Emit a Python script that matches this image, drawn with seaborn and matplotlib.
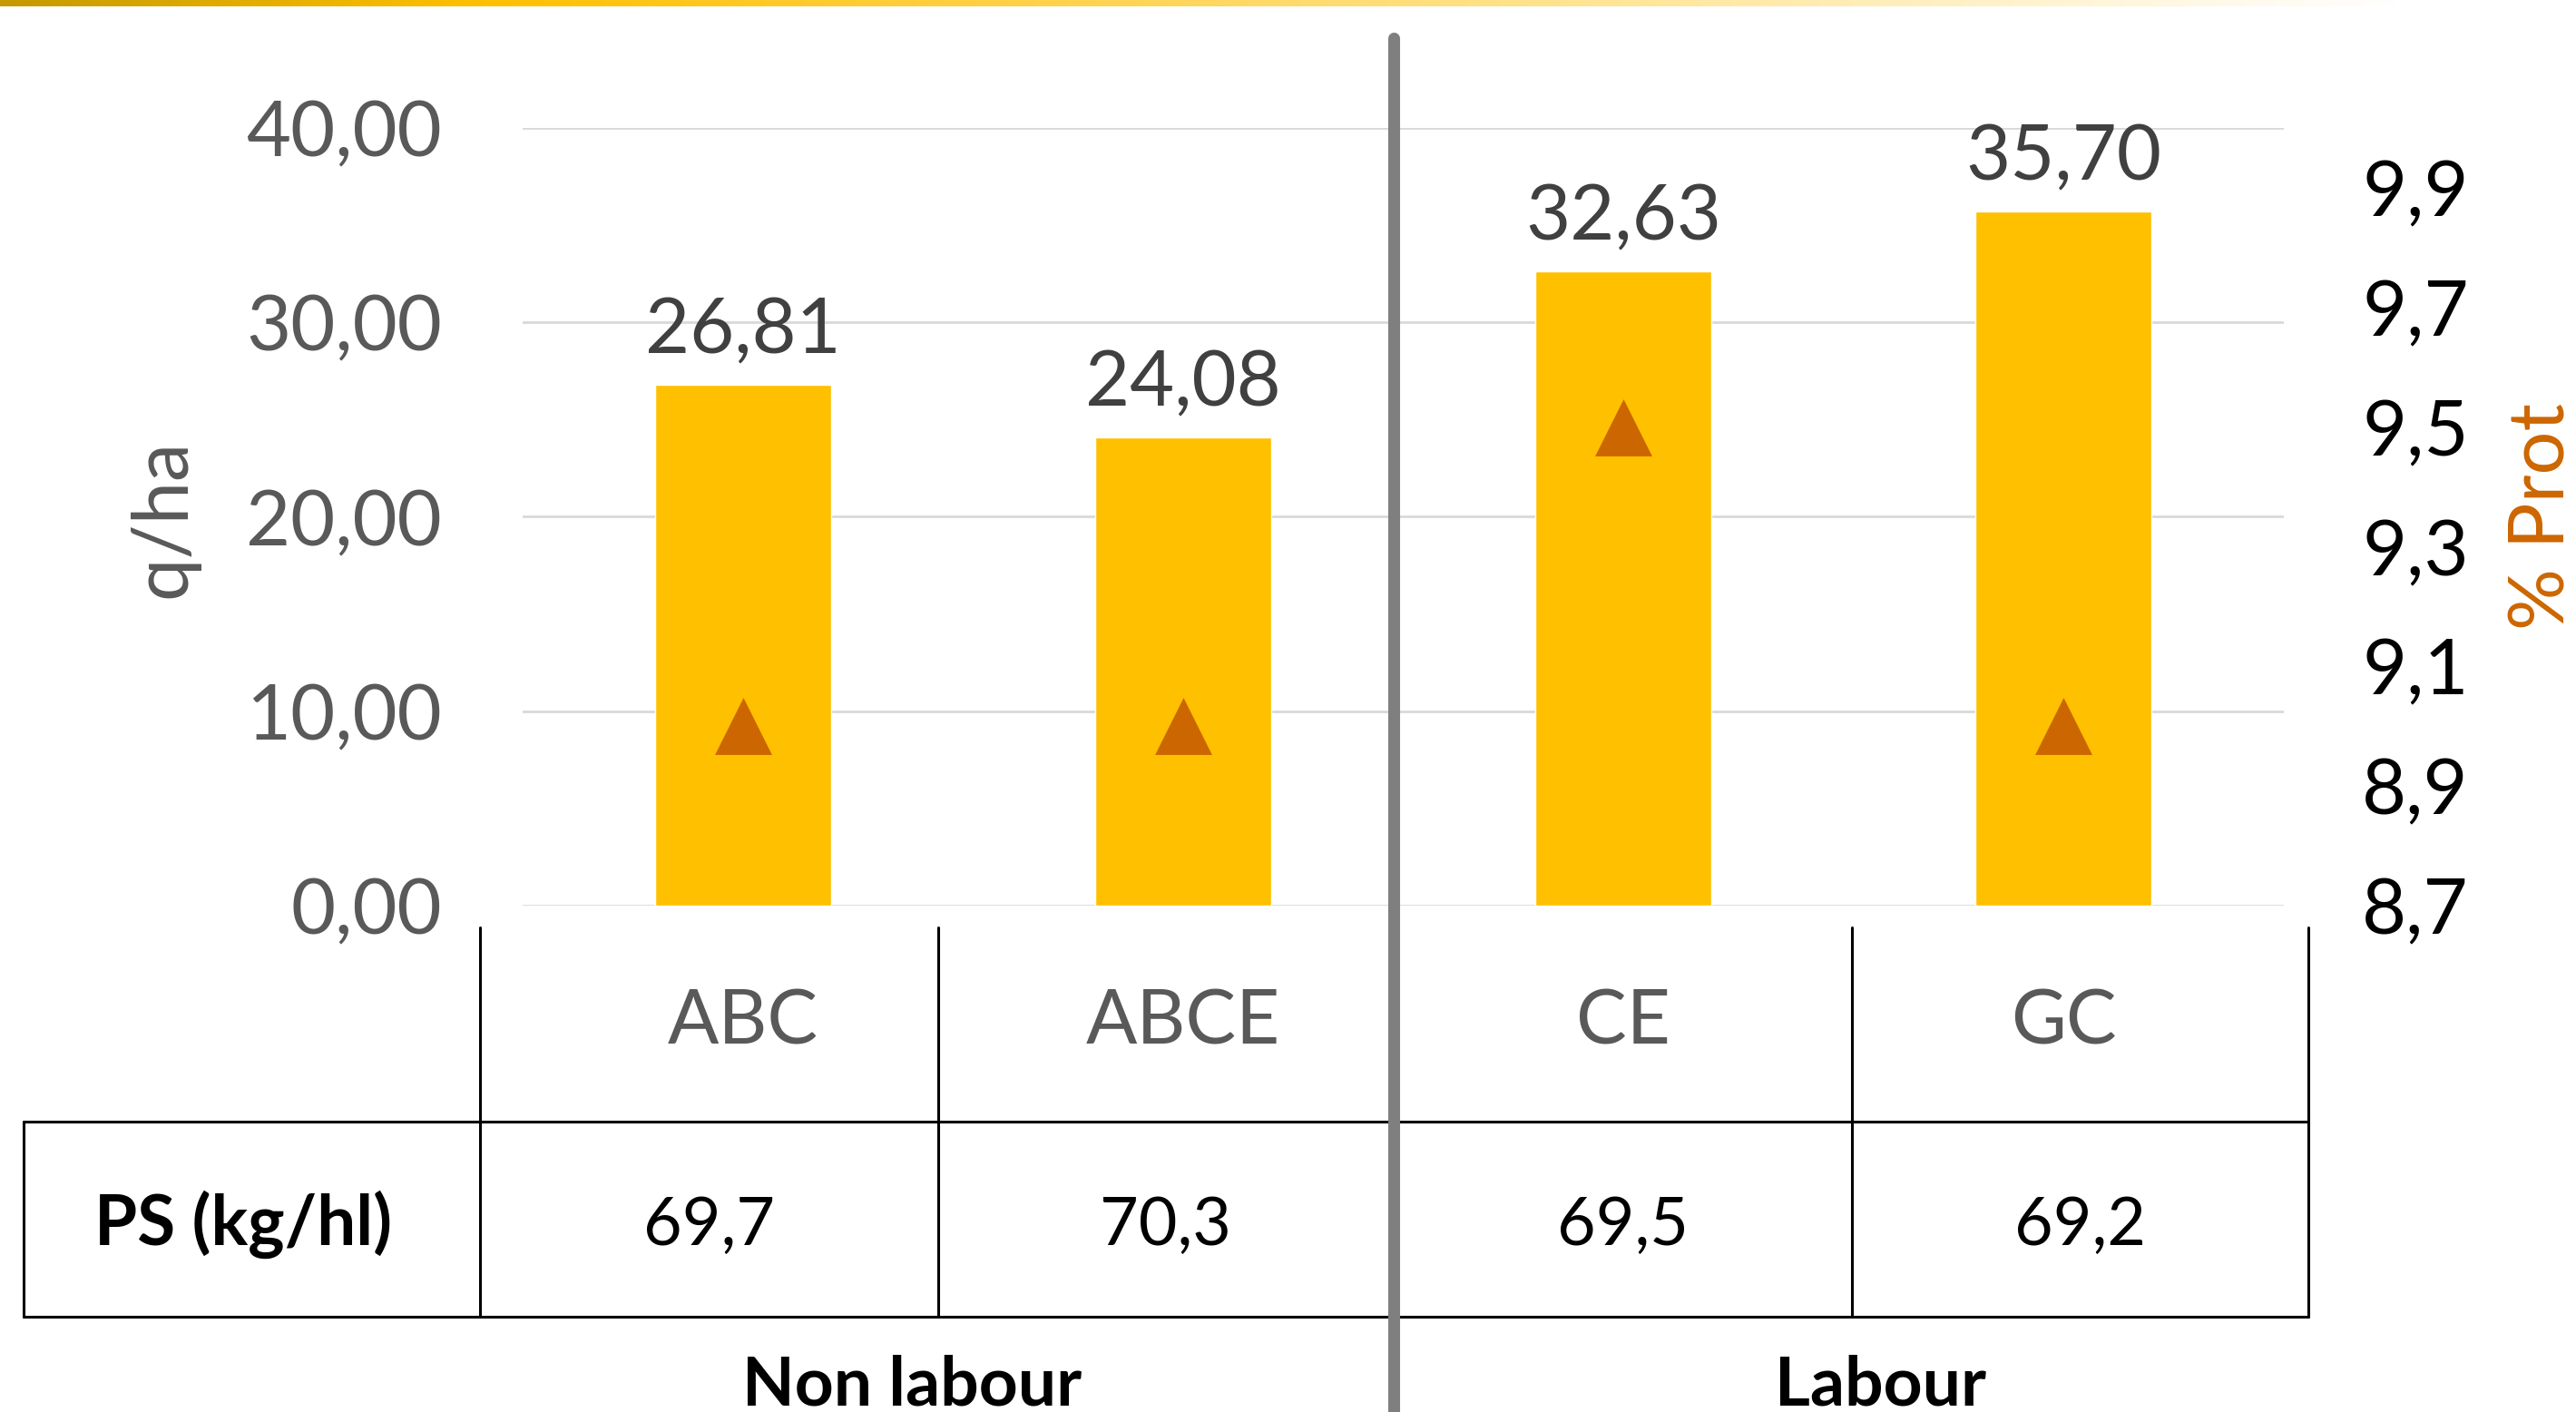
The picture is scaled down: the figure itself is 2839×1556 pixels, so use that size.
import numpy as np
import matplotlib.pyplot as plt
import seaborn as sns
from matplotlib.colors import LinearSegmentedColormap
from matplotlib.lines import Line2D
from matplotlib.transforms import blended_transform_factory

systems = ["ABC", "ABCE", "CE", "GC"]
yield_qha = [26.81, 24.08, 32.63, 35.70]
prot_pct = [9.0, 9.0, 9.5, 9.0]
ps_kghl = ["69,7", "70,3", "69,5", "69,2"]
groups = ["Non labour", "Labour"]
left_ticks = [0, 10, 20, 30, 40]
right_ticks = [8.7, 8.9, 9.1, 9.3, 9.5, 9.7, 9.9]

BAR = "#FFC000"
ORANGE = "#CC6600"
GREY = "#595959"

sns.set_theme(style="white")
plt.rcParams["font.family"] = ["Lato", "DejaVu Sans"]

fig = plt.figure(figsize=(28.39, 15.56), dpi=100)

# golden fade strip along the top
cmap = LinearSegmentedColormap.from_list(
    "strip", [(0, "#C59A00"), (0.185, "#FFC000"), (0.5, "#FFDA6A"), (0.93, "#FFFFFF"), (1, "#FFFFFF")])
gax = fig.add_axes([0, 1 - 7 / 1556, 1, 7 / 1556])
gax.imshow(np.linspace(0, 1, 512)[None, :], aspect="auto", cmap=cmap)
gax.axis("off")

ax = fig.add_axes([0.2029, 0.3586, 0.6837, 0.5508])
sns.barplot(x=systems, y=yield_qha, color=BAR, width=0.4, saturation=1, ax=ax)
ax.set_xlim(-0.5, 3.5)
ax.set_ylim(0, 40)
ax.set_yticks(left_ticks)
ax.set_yticklabels([f"{v:.2f}".replace(".", ",") for v in left_ticks])
ax.yaxis.grid(True, color="#D9D9D9", lw=2)
ax.set_axisbelow(True)
ax.tick_params(axis="y", length=0, pad=64, labelsize=61, labelcolor=GREY)
ax.tick_params(axis="x", length=0, labelbottom=False)
ax.set_xlabel("")
ax.set_ylabel("")
ax.bar_label(ax.containers[0], labels=[f"{v:.2f}".replace(".", ",") for v in yield_qha],
             padding=14, fontsize=61, color="#404040")
ax.text(-0.204, 0.498, "q/ha", transform=ax.transAxes, rotation=90,
        ha="center", va="center", fontsize=61, color=GREY)

ax2 = ax.twinx()
sns.scatterplot(x=np.arange(len(systems)), y=prot_pct, marker="^", s=2050,
                color=ORANGE, linewidth=0, ax=ax2, zorder=5)
ax2.set_xlim(-0.5, 3.5)
ax2.set_ylim(8.7, 10.0)
ax2.set_yticks(right_ticks)
ax2.set_yticklabels([f"{v:.1f}".replace(".", ",") for v in right_ticks])
ax2.tick_params(axis="y", length=0, pad=62, labelsize=61, labelcolor="black")
ax2.set_ylabel("")
ax2.text(1.147, 0.5, "% Prot", transform=ax2.transAxes, rotation=90,
         ha="center", va="center", fontsize=61, color=ORANGE)

for a in (ax, ax2):
    for s in a.spines.values():
        s.set_visible(False)

# table underneath the chart
edges = [0.0092, 0.1863, 0.3642, 0.5410, 0.7189, 0.8961]
y_top, y_mid, y_bot = 0.3432, 0.2057, 0.0675
lw = 2.2
for i in (1, 2, 4, 5):
    fig.add_artist(Line2D([edges[i]] * 2, [y_top, y_mid], transform=fig.transFigure, color="black", lw=lw))
for x in edges:
    fig.add_artist(Line2D([x, x], [y_mid, y_bot], transform=fig.transFigure, color="black", lw=lw))
for y in (y_mid, y_bot):
    fig.add_artist(Line2D([edges[0], edges[-1]], [y, y], transform=fig.transFigure, color="black", lw=lw))

tr = blended_transform_factory(ax.transData, fig.transFigure)
for i, name in enumerate(systems):
    ax.text(i, 0.2603, name, transform=tr, ha="center", va="baseline", fontsize=60, color=GREY)

fig.text(0.0945, 0.1183, "PS (kg/hl)", ha="center", va="baseline",
         fontsize=55, fontweight="bold", color="black")
for i, val in enumerate(ps_kghl):
    fig.text((edges[i + 1] + edges[i + 2]) / 2, 0.1183, val, ha="center", va="baseline",
             fontsize=53, color="black")

for xc, g in zip([0.354, 0.730], groups):
    fig.text(xc, 0.005, g, ha="center", va="baseline", fontsize=54, fontweight="bold", color="black")

# grey divider between the two tillage groups
fig.add_artist(Line2D([edges[3]] * 2, [0, 0.973], transform=fig.transFigure, color="#7F7F7F", lw=9.4))

fig.savefig("out.png", dpi=100)
